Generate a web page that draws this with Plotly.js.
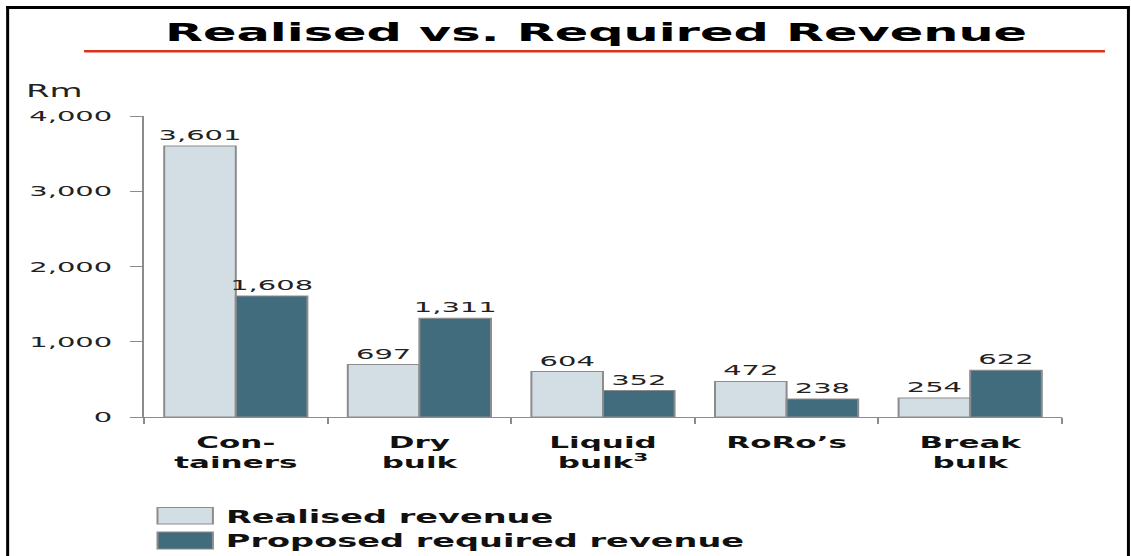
<!DOCTYPE html>
<html>
<head>
<meta charset="utf-8">
<script src="https://cdn.plot.ly/plotly-3.0.1.min.js"></script>
<style>
  html, body { margin: 0; padding: 0; background: #ffffff; }
  #wrap { width: 1131px; height: 556px; overflow: hidden; position: relative; }
  #plot { width: 565.5px; height: 556px; transform: scaleX(2); transform-origin: 0 0; }
</style>
</head>
<body>
<div id="wrap"><div id="plot"></div></div>
<script>
// ---- data ----
const categories = ['Con-<br>tainers', 'Dry<br>bulk', 'Liquid<br>bulk<sup>3</sup>', 'RoRo’s', 'Break<br>bulk'];
const realised = [3601, 697, 604, 472, 254];
const proposed = [1608, 1311, 352, 238, 622];
const seriesNames = ['Realised revenue', 'Proposed required revenue'];
const yTickValues = [0, 1000, 2000, 3000, 4000];
const yUnit = 'Rm';
const chartTitle = 'Realised vs. Required Revenue';

// ---- geometry (reference pixels -> layout coords; page is stretched 2x horizontally) ----
const S = 2, W = 565.5, H = 556;
const L = 71.5, T = 116, PW = 459.5, PH = 301;
const px = xr => (xr / S - L) / PW;
const py = yr => (T + PH - yr) / PH;

const FONT = 'DejaVu Sans';
const cLight = '#d2dee4', cDark = '#406c7e', cEdge = '#8c8c8c';

const traces = [
  {
    type: 'bar', name: seriesNames[0], x: categories, y: realised,
    marker: { color: cLight, line: { color: cEdge, width: 1 } },
    texttemplate: '%{y:,.0f}', textposition: 'outside', constraintext: 'none', cliponaxis: false,
    textfont: { family: FONT, size: 14.5, color: '#222222' }, showlegend: false, hoverinfo: 'skip'
  },
  {
    type: 'bar', name: seriesNames[1], x: categories, y: proposed,
    marker: { color: cDark, line: { color: cEdge, width: 1 } },
    texttemplate: '%{y:,.0f}', textposition: 'outside', constraintext: 'none', cliponaxis: false,
    textfont: { family: FONT, size: 14.5, color: '#222222' }, showlegend: false, hoverinfo: 'skip'
  }
];

const shapes = [
  // red rule under title
  { type: 'line', xref: 'paper', yref: 'paper', x0: px(83), x1: px(1105), y0: py(51.3), y1: py(51.3),
    line: { color: '#d8351d', width: 2.5 } },
  // frame
  { type: 'line', xref: 'paper', yref: 'paper', x0: px(5), x1: px(1130), y0: py(7.5), y1: py(7.5),
    line: { color: '#000000', width: 3 } },
  { type: 'line', xref: 'paper', yref: 'paper', x0: px(6.5), x1: px(6.5), y0: py(6), y1: py(570),
    line: { color: '#000000', width: 1.5 } },
  { type: 'line', xref: 'paper', yref: 'paper', x0: px(1128.5), x1: px(1128.5), y0: py(6), y1: py(570),
    line: { color: '#000000', width: 1.5 } },
  // legend swatches
  { type: 'rect', xref: 'paper', yref: 'paper', x0: px(156.5), x1: px(212), y0: py(524), y1: py(507.5),
    fillcolor: cLight, line: { color: cEdge, width: 1 } },
  { type: 'rect', xref: 'paper', yref: 'paper', x0: px(156.5), x1: px(212), y0: py(549), y1: py(532),
    fillcolor: cDark, line: { color: cEdge, width: 1 } }
];

const annotations = [
  { xref: 'paper', yref: 'paper', x: px(222), y: py(516.5), xanchor: 'left', yanchor: 'middle',
    text: seriesNames[0], showarrow: false,
    font: { family: FONT, size: 16.8, weight: 'bold', color: '#111111' } },
  { xref: 'paper', yref: 'paper', x: px(222), y: py(540.5), xanchor: 'left', yanchor: 'middle',
    text: seriesNames[1], showarrow: false,
    font: { family: FONT, size: 16.8, weight: 'bold', color: '#111111' } },
  { xref: 'paper', yref: 'paper', x: px(21), y: py(91), xanchor: 'left', yanchor: 'middle',
    text: yUnit, showarrow: false,
    font: { family: FONT, size: 17, color: '#222222' } }
];

const layout = {
  width: W, height: H, autosize: false,
  margin: { l: L, r: W - L - PW, t: T, b: H - T - PH, pad: 0 },
  paper_bgcolor: '#ffffff', plot_bgcolor: '#ffffff',
  title: {
    text: chartTitle, xref: 'container', yref: 'container',
    x: (596 / S) / W, xanchor: 'center', y: 1 - 32 / H, yanchor: 'middle',
    font: { family: FONT, size: 24.7, weight: 'bold', color: '#000000' }
  },
  barmode: 'group', bargap: 0.22, bargroupgap: 0,
  xaxis: {
    type: 'category', showgrid: false, zeroline: false,
    showline: true, linecolor: cEdge, linewidth: 1,
    ticks: 'outside', tickson: 'boundaries', ticklen: 6, tickcolor: cEdge, tickwidth: 1,
    ticklabelstandoff: 11,
    tickfont: { family: FONT, size: 15.5, weight: 'bold', color: '#111111' },
    fixedrange: true
  },
  yaxis: {
    range: [0, 4000], tickvals: yTickValues, tickformat: ',.0f',
    showgrid: false, zeroline: false,
    showline: true, linecolor: cEdge, linewidth: 1,
    ticks: 'outside', ticklen: 6, tickcolor: cEdge, tickwidth: 1,
    ticklabelstandoff: 6,
    tickfont: { family: FONT, size: 14.5, color: '#222222' },
    fixedrange: true
  },
  shapes: shapes,
  annotations: annotations,
  showlegend: false
};

Plotly.newPlot('plot', traces, layout, { staticPlot: true, displayModeBar: false });
</script>
</body>
</html>
